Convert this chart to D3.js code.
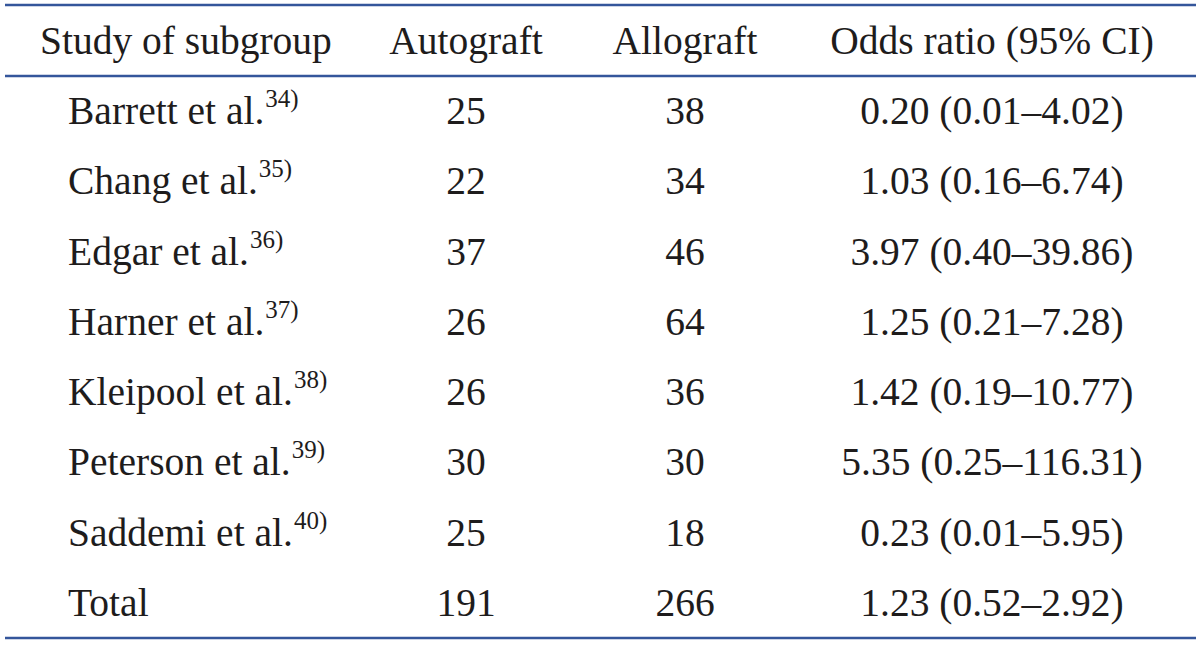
<!DOCTYPE html>
<html lang="en">
    <head>
        <meta charset="utf-8">
        <title>Autograft vs allograft</title>
        <script type="text/javascript" src="https://cdnjs.cloudflare.com/ajax/libs/d3/7.8.5/d3.min.js"></script>
        <style type="text/css">
            body { margin: 0; background: #fff; }
        </style>
    </head>
    <body>
        <script type="text/javascript">
            var w = 1200;
            var h = 648;

            // table data
            var headers = ["Study of subgroup", "Autograft", "Allograft", "Odds ratio (95% CI)"];
            var studies = ["Barrett et al.", "Chang et al.", "Edgar et al.", "Harner et al.",
                           "Kleipool et al.", "Peterson et al.", "Saddemi et al.", "Total"];
            var refs = ["34)", "35)", "36)", "37)", "38)", "39)", "40)", ""];
            var autograft = [25, 22, 37, 26, 26, 30, 25, 191];
            var allograft = [38, 34, 46, 64, 36, 30, 18, 266];
            var oddsRatio = [0.20, 1.03, 3.97, 1.25, 1.42, 5.35, 0.23, 1.23];
            var ciLow = [0.01, 0.16, 0.40, 0.21, 0.19, 0.25, 0.01, 0.52];
            var ciHigh = [4.02, 6.74, 39.86, 7.28, 10.77, 116.31, 5.95, 2.92];

            var lineColor = "#34569b";
            var textColor = "#1e1c1c";
            var font = "'Liberation Serif', 'Times New Roman', serif";
            var fs = 39.5;

            var topY = 5, headY = 76, bottomY = 638;
            var fmt = d3.format(".2f");

            var svg = d3.select("body")
                        .append("svg")
                        .attr("width", w)
                        .attr("height", h);

            var y = d3.scaleBand()
                      .domain(d3.range(studies.length))
                      .range([headY, bottomY]);

            var x = d3.scaleOrdinal()
                      .domain(headers)
                      .range([40, 466, 685, 992]);

            var rows = studies.map(function(s, i) {
                return {
                    name: s,
                    ref: refs[i],
                    auto: autograft[i],
                    allo: allograft[i],
                    or: fmt(oddsRatio[i]) + " (" + fmt(ciLow[i]) + "\u2013" + fmt(ciHigh[i]) + ")"
                };
            });

            // rules
            [topY, headY, bottomY].forEach(function(ly) {
                svg.append("line")
                   .attr("x1", 5).attr("x2", 1196)
                   .attr("y1", ly).attr("y2", ly)
                   .attr("stroke", lineColor)
                   .attr("stroke-width", 2.6);
            });

            var g = svg.append("g")
                       .attr("font-family", font)
                       .attr("font-size", fs)
                       .attr("fill", textColor);

            // header
            var hy = (topY + headY) / 2 + 13;
            g.selectAll("text.head")
             .data(headers)
             .enter()
             .append("text")
             .attr("class", "head")
             .attr("x", function(d) { return x(d); })
             .attr("y", hy)
             .attr("text-anchor", function(d, i) { return i == 0 ? "start" : "middle"; })
             .text(function(d) { return d; });

            // body rows
            var row = g.selectAll("g.row")
                       .data(rows)
                       .enter()
                       .append("g")
                       .attr("class", "row")
                       .attr("transform", function(d, i) {
                           return "translate(0," + (y(i) + y.bandwidth() / 2 + 13) + ")";
                       });

            var nameText = row.append("text")
                              .attr("x", x(headers[0]) + 28);
            nameText.append("tspan").text(function(d) { return d.name; });
            nameText.append("tspan")
                    .attr("dx", 1)
                    .attr("dy", -17)
                    .attr("font-size", 25)
                    .text(function(d) { return d.ref; });

            row.append("text")
               .attr("x", x(headers[1]))
               .attr("text-anchor", "middle")
               .text(function(d) { return d.auto; });

            row.append("text")
               .attr("x", x(headers[2]))
               .attr("text-anchor", "middle")
               .text(function(d) { return d.allo; });

            row.append("text")
               .attr("x", x(headers[3]))
               .attr("text-anchor", "middle")
               .text(function(d) { return d.or; });
        </script>
    </body>
</html>
